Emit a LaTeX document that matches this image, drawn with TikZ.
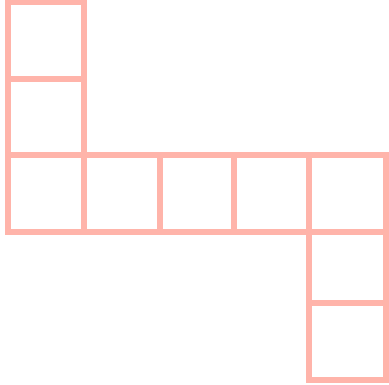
\documentclass[tikz,border=0pt]{standalone}
\usepackage{xcolor}
\usetikzlibrary{positioning}

\definecolor{cellline}{RGB}{255,180,170}

\begin{document}
\begin{tikzpicture}[
  x=1pt,
  y=-1pt,
  cell/.style={draw=cellline, fill=white, line width=6pt, line join=miter},
]

% Frame.
\useasboundingbox[fill=white] (0,0) rectangle (389,385);

% Left column.
\foreach \ya/\yb in {2.5/79.5, 79.5/155, 155/232.5}
  \draw[cell] (8,\ya) rectangle (84,\yb);

% Middle row.
\foreach \xa/\xb in {84/160, 160/234, 234/309, 309/386}
  \draw[cell] (\xa,155) rectangle (\xb,232.5);

% Right column.
\foreach \ya/\yb in {232.5/303.5, 303.5/380}
  \draw[cell] (309,\ya) rectangle (386,\yb);

\end{tikzpicture}
\end{document}
